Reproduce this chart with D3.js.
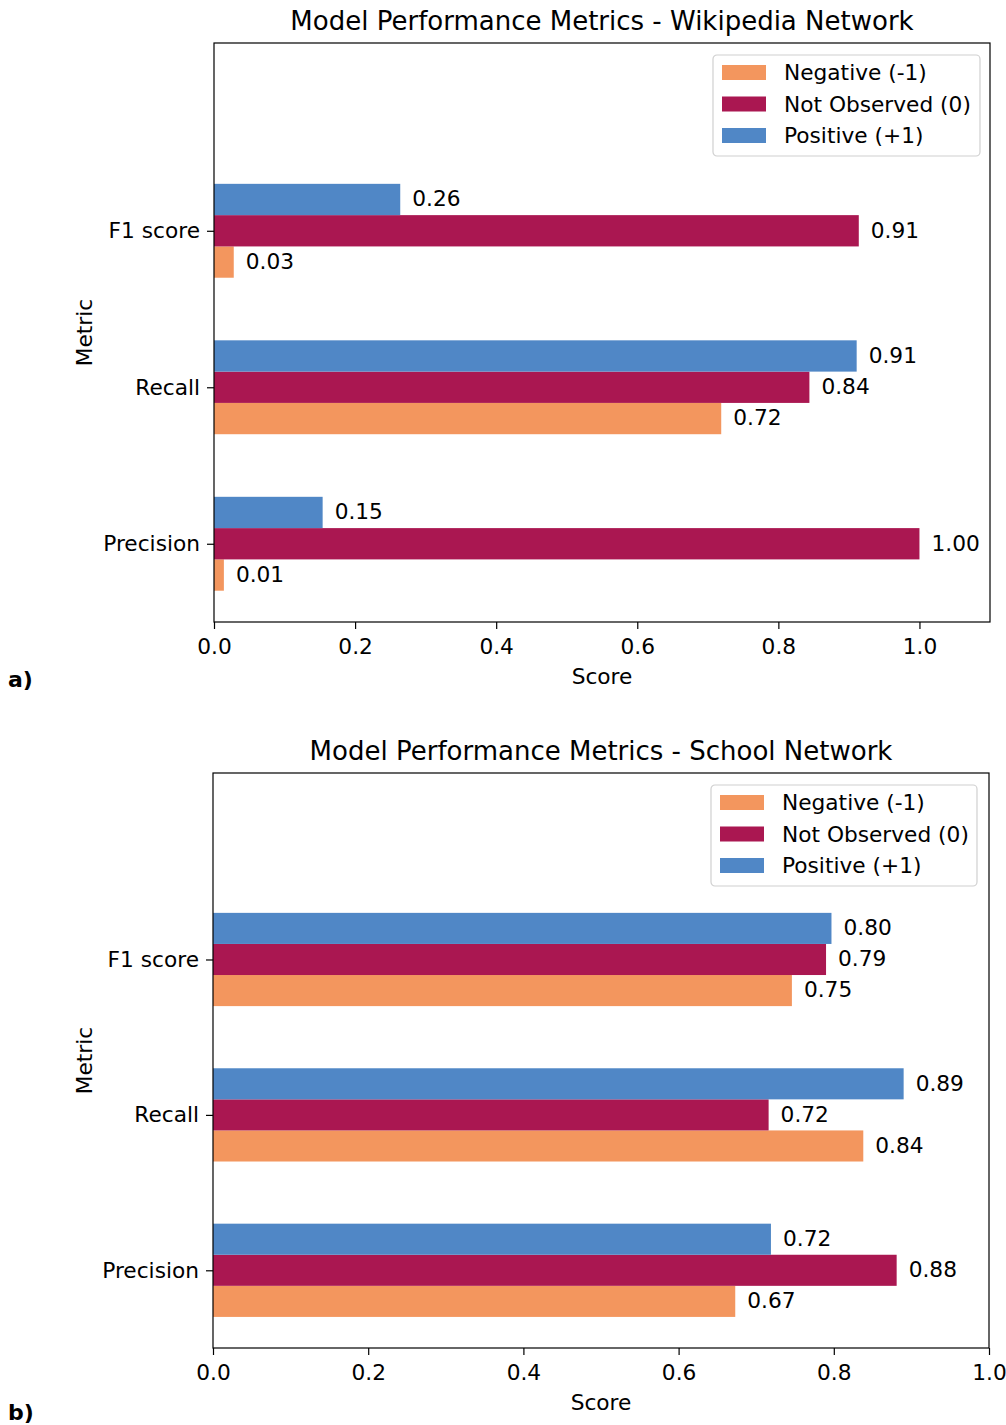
<!DOCTYPE html>
<html>
<head>
<meta charset="utf-8">
<script src="https://cdn.jsdelivr.net/npm/d3@7"></script>
<style>
  body { margin: 0; background: #fff; }
  svg, svg text { font-family: "DejaVu Sans", sans-serif; }
</style>
</head>
<body>
<div id="chart"></div>
<script>
const metrics = ['Precision', 'Recall', 'F1 score'];
const seriesNames = ['Negative (-1)', 'Not Observed (0)', 'Positive (+1)'];
const seriesColors = ['#f3965e', '#aa1751', '#5087c6'];
const seriesOffsets = [-0.2, 0, 0.2];

// Wikipedia network: order = Precision, Recall, F1 score
const wikiNegative = [0.014, 0.719, 0.028];
const wikiNotObserved = [1.0, 0.844, 0.914];
const wikiPositive = [0.154, 0.911, 0.264];

// School network
const schoolNegative = [0.673, 0.838, 0.746];
const schoolNotObserved = [0.881, 0.716, 0.790];
const schoolPositive = [0.719, 0.890, 0.797];

const xTicks = [0, 0.2, 0.4, 0.6, 0.8, 1.0];

const FS = 21.7;

const svg = d3.select('#chart').append('svg')
  .attr('width', 1006).attr('height', 1425);

function drawPanel(opt) {
  const { left, right, top, bottom, xMax, title, values, tag, tagY, legend } = opt;
  const g = svg.append('g');

  const x = d3.scaleLinear().domain([0, xMax]).range([left, right]);
  const y = d3.scaleLinear().domain([-0.5, 3.2]).range([bottom, top]);
  const bh = y(0) - y(0.2);

  // bars + value labels
  values.forEach((vals, si) => {
    g.append('g').selectAll('rect').data(vals).join('rect')
      .attr('x', x(0))
      .attr('y', (d, i) => y(i + seriesOffsets[si] + 0.1))
      .attr('width', d => x(d) - x(0))
      .attr('height', bh)
      .attr('fill', seriesColors[si]);
    g.append('g').selectAll('text').data(vals).join('text')
      .attr('x', d => x(d) + 12)
      .attr('y', (d, i) => y(i + seriesOffsets[si]) - 1)
      .attr('dy', '0.36em')
      .attr('font-size', FS)
      .text(d => d.toFixed(2));
  });

  // axes
  const xAxis = g.append('g').attr('transform', `translate(0,${bottom})`)
    .call(d3.axisBottom(x).tickValues(xTicks).tickFormat(d3.format('.1f')).tickSizeOuter(0).tickSize(7).tickPadding(10));
  xAxis.select('.domain').remove();
  const yAxis = g.append('g').attr('transform', `translate(${left},0)`)
    .call(d3.axisLeft(y).tickValues([0, 1, 2]).tickFormat(i => metrics[i]).tickSizeOuter(0).tickSize(7).tickPadding(7));
  yAxis.select('.domain').remove();
  g.selectAll('.tick line').attr('stroke', '#000').attr('stroke-width', 1.2);
  g.selectAll('.tick text')
    .attr('font-family', '"DejaVu Sans", sans-serif')
    .attr('font-size', FS).attr('fill', '#000');

  g.append('rect')
    .attr('x', left).attr('y', top)
    .attr('width', right - left).attr('height', bottom - top)
    .attr('fill', 'none').attr('stroke', '#000').attr('stroke-width', 1.2);

  // titles
  g.append('text').attr('x', (left + right) / 2).attr('y', top - 13)
    .attr('text-anchor', 'middle').attr('font-size', 26).text(title);
  g.append('text').attr('x', (left + right) / 2).attr('y', bottom + 62)
    .attr('text-anchor', 'middle').attr('font-size', FS).text('Score');
  g.append('text')
    .attr('transform', `translate(92,${(top + bottom) / 2}) rotate(-90)`)
    .attr('text-anchor', 'middle').attr('font-size', FS).text('Metric');
  g.append('text').attr('x', 8).attr('y', tagY)
    .attr('font-size', 22).attr('font-weight', 'bold').text(tag);

  // legend
  const lg = g.append('g').attr('transform', `translate(${legend.x},${legend.y})`);
  lg.append('rect').attr('width', legend.w).attr('height', 101).attr('rx', 4)
    .attr('fill', '#fff').attr('fill-opacity', 0.8).attr('stroke', '#d0d0d0').attr('stroke-width', 1.2);
  seriesNames.forEach((name, i) => {
    lg.append('rect').attr('x', 9).attr('y', 10 + i * 31.5).attr('width', 44).attr('height', 15)
      .attr('fill', seriesColors[i]);
    lg.append('text').attr('x', 71).attr('y', 17.5 + i * 31.5).attr('dy', '0.36em')
      .attr('font-size', FS).text(name);
  });
}

drawPanel({
  left: 214, right: 990, top: 43, bottom: 622, xMax: 1.1,
  title: 'Model Performance Metrics - Wikipedia Network',
  values: [wikiNegative, wikiNotObserved, wikiPositive],
  tag: 'a)', tagY: 687,
  legend: { x: 713, y: 55, w: 267 }
});

drawPanel({
  left: 213, right: 989, top: 773, bottom: 1348, xMax: 1.0,
  title: 'Model Performance Metrics - School Network',
  values: [schoolNegative, schoolNotObserved, schoolPositive],
  tag: 'b)', tagY: 1420,
  legend: { x: 711, y: 785, w: 266 }
});
</script>
</body>
</html>
